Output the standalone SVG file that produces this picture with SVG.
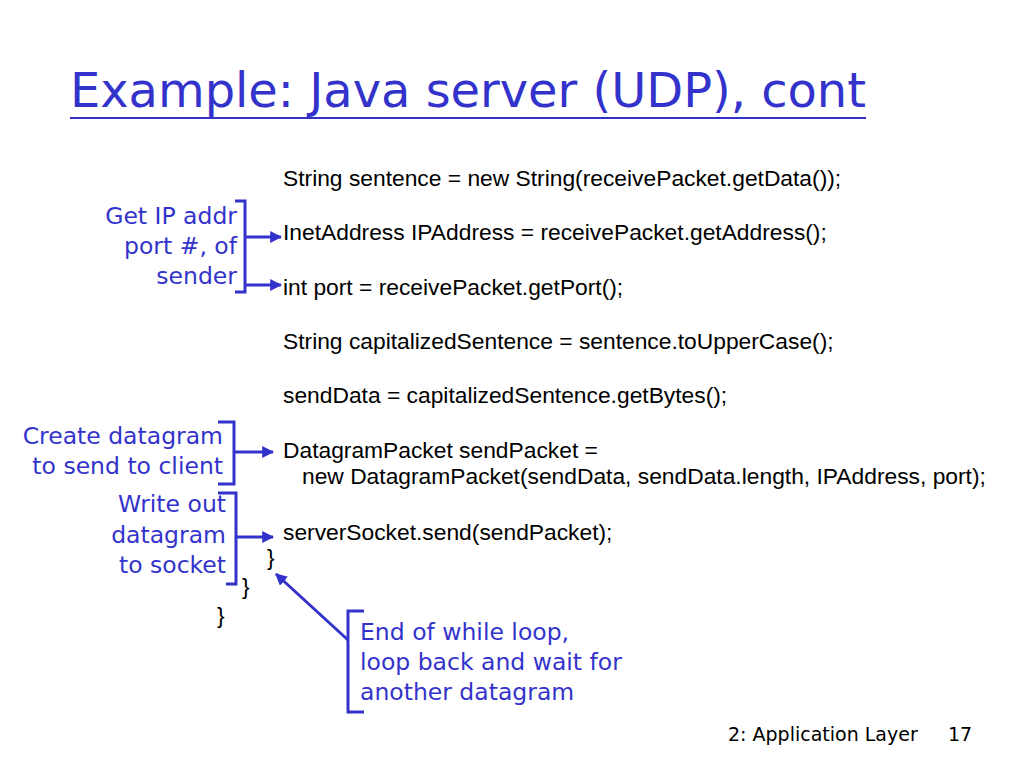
<svg xmlns="http://www.w3.org/2000/svg" width="1024" height="768" viewBox="0 0 1024 768">
<defs>
<marker id="ah" viewBox="0 0 10 10" refX="9" refY="5" markerWidth="4" markerHeight="4" orient="auto" markerUnits="strokeWidth">
<path d="M0,0 L10,5 L0,10 z" fill="#3333cc"/>
</marker>
<style>
.title{font-family:"DejaVu Sans","Liberation Sans",sans-serif;font-size:48px;fill:#3333cc}
.code{font-family:"Liberation Sans",Arial,sans-serif;font-size:22.8px;fill:#000}
.note{font-family:"DejaVu Sans","Liberation Sans",sans-serif;font-size:23.5px;fill:#3333cc}
.foot{font-family:"DejaVu Sans","Liberation Sans",sans-serif;font-size:19px;fill:#000}
.br{fill:none;stroke:#3333cc;stroke-width:3}
.conn{fill:none;stroke:#3333cc;stroke-width:3;marker-end:url(#ah)}
</style>
</defs>
<rect width="1024" height="768" fill="#fff"/>
<g id="title">
<text class="title" x="70" y="107" textLength="796" lengthAdjust="spacingAndGlyphs">Example: Java server (UDP), cont</text>
<line x1="70" y1="118" x2="866" y2="118" stroke="#3333cc" stroke-width="2"/>
</g>
<g id="code">
<text class="code" x="283" y="186">String sentence = new String(receivePacket.getData());</text>
<text class="code" x="283" y="240">InetAddress IPAddress = receivePacket.getAddress();</text>
<text class="code" x="283" y="295">int port = receivePacket.getPort();</text>
<text class="code" x="283" y="349">String capitalizedSentence = sentence.toUpperCase();</text>
<text class="code" x="283" y="403">sendData = capitalizedSentence.getBytes();</text>
<text class="code" x="283" y="458">DatagramPacket sendPacket =</text>
<text class="code" x="302" y="484">new DatagramPacket(sendData, sendData.length, IPAddress, port);</text>
<text class="code" x="283" y="540">serverSocket.send(sendPacket);</text>
<text class="code" x="267" y="565">}</text>
<text class="code" x="242" y="594">}</text>
<text class="code" x="217" y="623">}</text>
</g>
<g id="note-getip">
<text class="note" x="237" y="224" text-anchor="end">Get IP addr</text>
<text class="note" x="237" y="254" text-anchor="end">port #, of</text>
<text class="note" x="237" y="284" text-anchor="end">sender</text>
<path class="br" d="M235,201 H245 V292 H235"/>
</g>
<g id="note-create">
<text class="note" x="223" y="444" text-anchor="end">Create datagram</text>
<text class="note" x="223" y="474" text-anchor="end">to send to client</text>
<path class="br" d="M218,422 H234 V484 H218"/>
</g>
<g id="note-write">
<text class="note" x="226" y="512" text-anchor="end">Write out</text>
<text class="note" x="226" y="543" text-anchor="end">datagram</text>
<text class="note" x="226" y="573" text-anchor="end">to socket</text>
<path class="br" d="M218,493 H236 V584 H226"/>
</g>
<g id="note-end">
<text class="note" x="360" y="640">End of while loop,</text>
<text class="note" x="360" y="670">loop back and wait for</text>
<text class="note" x="360" y="700">another datagram</text>
<path class="br" d="M364,611 H348 V712 H364"/>
</g>
<g id="connectors">
<line class="conn" x1="245" y1="237" x2="281" y2="237"/>
<line class="conn" x1="245" y1="285" x2="281" y2="285"/>
<line class="conn" x1="234" y1="452" x2="273" y2="452"/>
<line class="conn" x1="236" y1="537" x2="273" y2="537"/>
<line class="conn" x1="348" y1="640" x2="276" y2="574"/>
</g>
<g id="footer">
<text class="foot" x="728" y="741">2: Application Layer</text>
<text class="foot" x="948" y="741">17</text>
</g>
</svg>
